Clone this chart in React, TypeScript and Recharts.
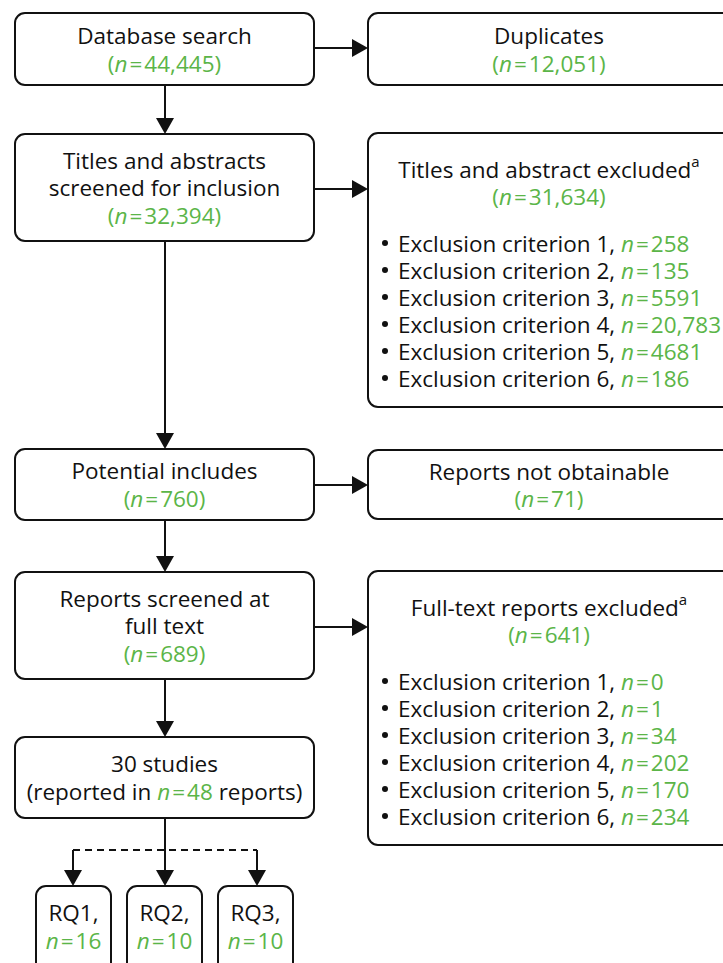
import { ScatterChart, Scatter, XAxis, YAxis, ReferenceArea, ReferenceLine } from "recharts";

// ── flow counts ──
const mainSteps = ["Database search", "Titles and abstracts\nscreened for inclusion", "Potential includes", "Reports screened at\nfull text"];
const mainCounts = [44445, 32394, 760, 689];

const sideSteps = ["Duplicates", "Titles and abstract excluded", "Reports not obtainable", "Full-text reports excluded"];
const sideCounts = [12051, 31634, 71, 641];
const sideFootnote = ["", "a", "", "a"];

// ── exclusion reasons ──
const criteria = [
  "Exclusion criterion 1",
  "Exclusion criterion 2",
  "Exclusion criterion 3",
  "Exclusion criterion 4",
  "Exclusion criterion 5",
  "Exclusion criterion 6",
];
const titleExcluded = [258, 135, 5591, 20783, 4681, 186];
const fullTextExcluded = [0, 1, 34, 202, 170, 234];

// ── included ──
const includedStudies = 30;
const includedReports = 48;
const rqLabels = ["RQ1", "RQ2", "RQ3"];
const rqCounts = [16, 10, 10];

// layout (page pixels)
const W = 723;
const H = 963;
const GREEN = "#5BB548";
const INK = "#111";
const FONT = "'Open Sans', sans-serif";
const FS = 22.5;
const LH = 27.5;

const mainBoxes = [
  { y1: 13, y2: 85 },
  { y1: 134, y2: 241 },
  { y1: 449, y2: 520 },
  { y1: 572, y2: 679 },
];
const studyBox = { y1: 737, y2: 818 };
const sideBoxes = [
  { y1: 13, y2: 85 },
  { y1: 133, y2: 407 },
  { y1: 450, y2: 519 },
  { y1: 571, y2: 845 },
];
const rqBoxes = [
  { x1: 36, x2: 111 },
  { x1: 127, x2: 202 },
  { x1: 218, x2: 293 },
];

const fmt = (n: number) => (n >= 10000 ? n.toLocaleString("en-US") : String(n));

// flat sibling tspans, green, italic n
function count(n: number, paren = true) {
  return (
    <>
      {paren && <tspan fill={GREEN}>(</tspan>}
      <tspan fill={GREEN} fontStyle="italic">n</tspan>
      <tspan fill={GREEN} dx={2}>=</tspan>
      <tspan fill={GREEN} dx={2}>{fmt(n) + (paren ? ")" : "")}</tspan>
    </>
  );
}

function Txt({ x, y, anchor = "middle", children }: any) {
  return (
    <text x={x} y={y} textAnchor={anchor} dominantBaseline="central" fontFamily={FONT} fontSize={FS} fill={INK}>
      {children}
    </text>
  );
}

function boxRect(p: any) {
  return <rect x={p.x} y={p.y} width={p.width} height={p.height} rx={10} ry={10} fill="#fff" stroke={INK} strokeWidth={2} />;
}

// centred lines: label lines + count line
function mainShape(i: number) {
  return (p: any) => {
    const lines = mainSteps[i].split("\n");
    const n = lines.length + 1;
    const cx = p.x + p.width / 2;
    const top = p.y + p.height / 2 - ((n - 1) * LH) / 2;
    return (
      <g>
        {boxRect(p)}
        {lines.map((l, k) => (
          <Txt key={k} x={cx} y={top + k * LH}>{l}</Txt>
        ))}
        <Txt x={cx} y={top + lines.length * LH}>{count(mainCounts[i])}</Txt>
      </g>
    );
  };
}

function studyShape(p: any) {
  const cx = p.x + p.width / 2;
  const top = p.y + p.height / 2 - LH / 2;
  return (
    <g>
      {boxRect(p)}
      <Txt x={cx} y={top}>{includedStudies} studies</Txt>
      <Txt x={cx} y={top + LH}>
        <tspan>(reported in </tspan>
        {count(includedReports, false)}
        <tspan fill={INK}> reports)</tspan>
      </Txt>
    </g>
  );
}

function sideShape(i: number) {
  return (p: any) => {
    const cx = p.x + 181;
    const list = i === 1 ? titleExcluded : i === 3 ? fullTextExcluded : null;
    const simple = list === null;
    const t0 = simple ? p.y + p.height / 2 - LH / 2 : p.y + 36;
    return (
      <g>
        {boxRect(p)}
        <Txt x={cx} y={t0}>
          <tspan>{sideSteps[i]}</tspan>
          {sideFootnote[i] && (
            <tspan fontSize={15} dy={-8}>{sideFootnote[i]}</tspan>
          )}
        </Txt>
        <Txt x={cx} y={t0 + (simple ? LH : 27)}>{count(sideCounts[i])}</Txt>
        {list &&
          list.map((v, k) => (
            <g key={k}>
              <circle cx={p.x + 17} cy={p.y + 110 + k * 27} r={3} fill={INK} />
              <Txt x={p.x + 30} y={p.y + 110 + k * 27} anchor="start">
                <tspan>{criteria[k] + ", "}</tspan>
                {count(v, false)}
              </Txt>
            </g>
          ))}
      </g>
    );
  };
}

function rqShape(i: number) {
  return (p: any) => {
    const cx = p.x + p.width / 2;
    return (
      <g>
        {boxRect(p)}
        <Txt x={cx} y={p.y + 26}>{rqLabels[i]},</Txt>
        <Txt x={cx} y={p.y + 54}>{count(rqCounts[i], false)}</Txt>
      </g>
    );
  };
}

// arrow: line + filled head at the second point
function arrowShape(p: any) {
  const { x1, y1, x2, y2 } = p;
  const len = Math.hypot(x2 - x1, y2 - y1) || 1;
  const ux = (x2 - x1) / len;
  const uy = (y2 - y1) / len;
  const hl = 16;
  const hw = 9;
  const bx = x2 - ux * hl;
  const by = y2 - uy * hl;
  const pts = `${x2},${y2} ${bx - uy * hw},${by + ux * hw} ${bx + uy * hw},${by - ux * hw}`;
  return (
    <g>
      <line x1={x1} y1={y1} x2={bx} y2={by} stroke={INK} strokeWidth={2} />
      <polygon points={pts} fill={INK} />
    </g>
  );
}

const rightArrows = [48, 189, 485, 627];
const downArrows = [
  { x: 165, y1: 85, y2: 134 },
  { x: 165, y1: 241, y2: 449 },
  { x: 165, y1: 520, y2: 572 },
  { x: 165, y1: 679, y2: 737 },
  { x: 165, y1: 818, y2: 886 },
  { x: 73, y1: 850, y2: 886 },
  { x: 257, y1: 850, y2: 886 },
];

export default function App() {
  return (
    <div style={{ position: "absolute", left: 0, top: 0, width: W, height: H, background: "#fff" }}>
      <ScatterChart width={W} height={H} margin={{ top: 0, right: 0, bottom: 0, left: 0 }}>
        <XAxis type="number" dataKey="x" domain={[0, W]} hide allowDataOverflow />
        <YAxis type="number" dataKey="y" domain={[0, H]} reversed hide allowDataOverflow />
        <Scatter data={[]} isAnimationActive={false} />

        {mainBoxes.map((b, i) => (
          <ReferenceArea key={`m${i}`} x1={15} x2={314} y1={b.y1} y2={b.y2} ifOverflow="visible" shape={mainShape(i)} />
        ))}
        <ReferenceArea x1={15} x2={314} y1={studyBox.y1} y2={studyBox.y2} ifOverflow="visible" shape={studyShape} />
        {sideBoxes.map((b, i) => (
          <ReferenceArea key={`s${i}`} x1={368} x2={745} y1={b.y1} y2={b.y2} ifOverflow="visible" shape={sideShape(i)} />
        ))}
        {rqBoxes.map((b, i) => (
          <ReferenceArea key={`r${i}`} x1={b.x1} x2={b.x2} y1={886} y2={1000} ifOverflow="visible" shape={rqShape(i)} />
        ))}

        {rightArrows.map((y, i) => (
          <ReferenceLine key={`ra${i}`} segment={[{ x: 314, y }, { x: 368, y }]} ifOverflow="visible" shape={arrowShape} />
        ))}
        {downArrows.map((a, i) => (
          <ReferenceLine key={`da${i}`} segment={[{ x: a.x, y: a.y1 }, { x: a.x, y: a.y2 }]} ifOverflow="visible" shape={arrowShape} />
        ))}
        <ReferenceLine segment={[{ x: 73, y: 850 }, { x: 257, y: 850 }]} stroke={INK} strokeWidth={2} strokeDasharray="7 5" ifOverflow="visible" />
      </ScatterChart>
    </div>
  );
}
